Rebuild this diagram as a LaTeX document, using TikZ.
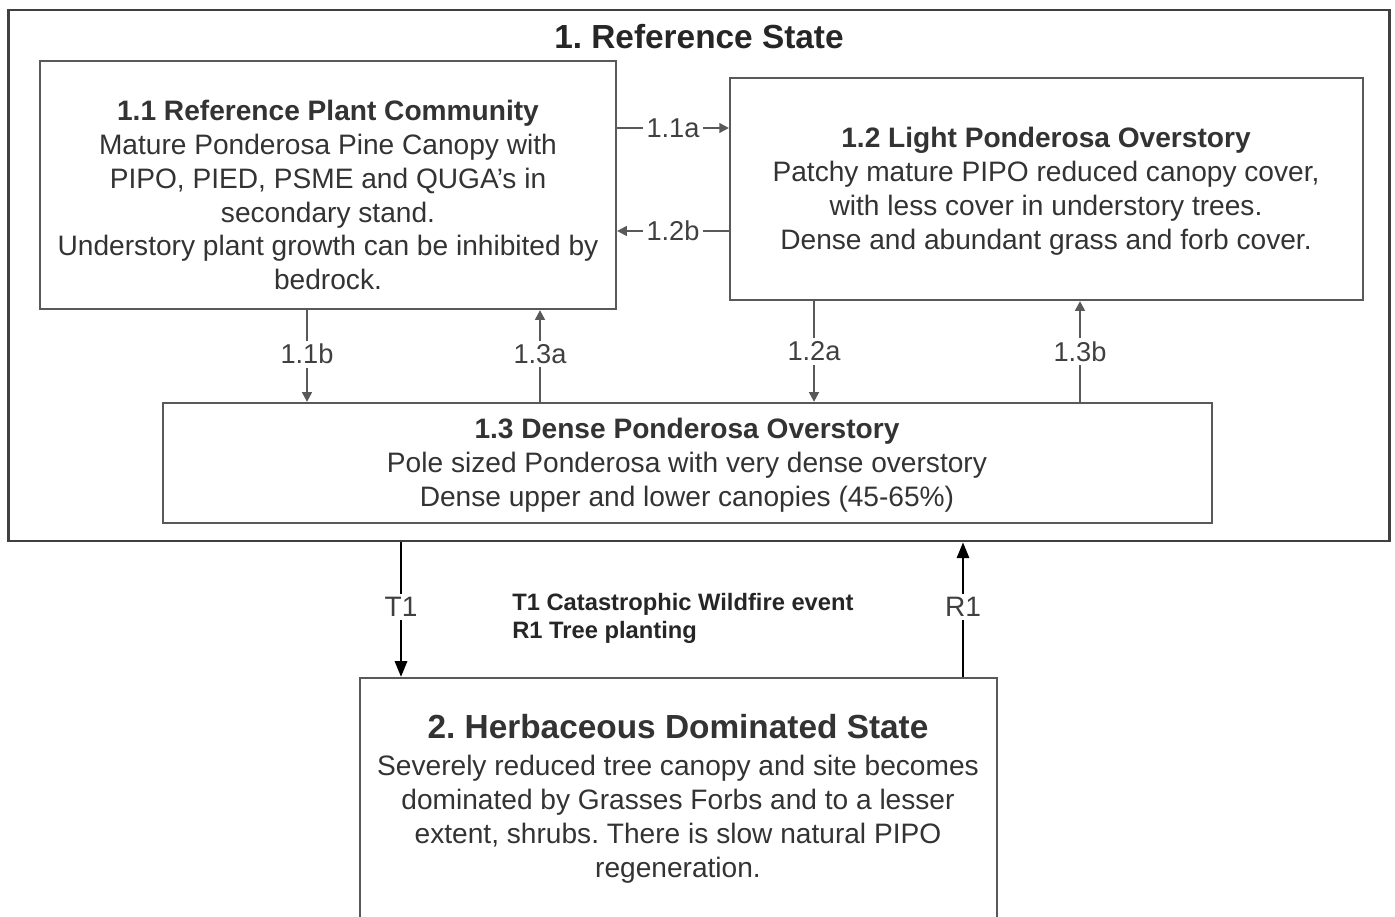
\documentclass[tikz,border=0pt]{standalone}
\usepackage{fontspec}
\setmainfont{Liberation Sans}
\usetikzlibrary{arrows.meta}
\frenchspacing
\tikzset{
  box/.style={draw=black!65, line width=1.3pt, fill=white, inner sep=0pt},
  outerbox/.style={draw=black!75, line width=1.6pt, inner sep=0pt},
  txt/.style={text=black!80, align=center, inner sep=0pt, font=\fontsize{16}{19.3}\selectfont},
  ttl/.style={text=black!85, inner sep=0pt, font=\fontsize{19}{22}\selectfont\bfseries},
  lbl/.style={text=black!75, fill=white, inner sep=2pt, font=\fontsize{15.5}{18}\selectfont},
  bigl/.style={text=black!75, fill=white, inner sep=2pt, font=\fontsize{16}{19}\selectfont},
  leg/.style={text=black!85, align=left, inner sep=0pt, font=\fontsize{13.5}{15.9}\selectfont\bfseries},
  arr/.style={draw=black!65, line width=1.2pt, -{Triangle[length=5.5pt,width=5.5pt]}},
  bigarr/.style={draw=black, line width=1.3pt, -{Triangle[length=9pt,width=7pt]}},
}
\begin{document}
\frenchspacing
\begin{tikzpicture}[x=0.02cm, y=-0.02cm]
\useasboundingbox (0,0) rectangle (1395,916);
\clip (0,0) rectangle (1395,916);
\fill[white] (0,0) rectangle (1395,916);

\node[outerbox, minimum width=27.64cm, minimum height=10.62cm] (outer) at (699,275.5) {};
\node[ttl] (ttl1) at (699,37) {1. Reference State};

\node[box, minimum width=11.52cm, minimum height=4.96cm] (b11) at (328,185) {};
\node[box, minimum width=12.66cm, minimum height=4.44cm] (b12) at (1046.5,189) {};
\node[box, minimum width=20.98cm, minimum height=2.4cm] (b13) at (687.5,463) {};
\node[box, minimum width=12.74cm, minimum height=5.04cm] (b2) at (678.5,804) {};

\node[txt] (t11) at (328,195) {\textbf{1.1 Reference Plant Community}\\
Mature Ponderosa Pine Canopy with\\
PIPO, PIED, PSME and QUGA's in\\
secondary stand.\\
Understory plant growth can be inhibited by\\
bedrock.};

\node[txt] (t12) at (1046,191) {\textbf{1.2 Light Ponderosa Overstory}\\
Patchy mature PIPO reduced canopy cover,\\
with less cover in understory trees.\\
Dense and abundant grass and forb cover.};

\node[txt] (t13) at (687,465) {\textbf{1.3 Dense Ponderosa Overstory}\\
Pole sized Ponderosa with very dense overstory\\
Dense upper and lower canopies (45-65\%)};

\node[txt, anchor=north] (t2h) at (678,714) {\fontsize{19}{22}\selectfont\bfseries 2. Herbaceous Dominated State};
\node[txt, anchor=north] (t2) at (678,755) {Severely reduced tree canopy and site becomes\\
dominated by Grasses Forbs and to a lesser\\
extent, shrubs. There is slow natural PIPO\\
regeneration.};

\node[leg, anchor=north west] (legend) at (512,593) {T1 Catastrophic Wildfire event\\R1 Tree planting};

% transitions within state 1
\draw[arr] (b11.east|-0,128) -- node[lbl] (l11a) {1.1a} (b12.west|-0,128);
\draw[arr] (b12.west|-0,231) -- node[lbl] (l12b) {1.2b} (b11.east|-0,231);
\draw[arr] (b11.south-|307,0) -- node[lbl, pos=0.48] (l11b) {1.1b} (b13.north-|307,0);
\draw[arr] (b13.north-|540,0) -- node[lbl, pos=0.52] (l13a) {1.3a} (b11.south-|540,0);
\draw[arr] (b12.south-|814,0) -- node[lbl, pos=0.5] (l12a) {1.2a} (b13.north-|814,0);
\draw[arr] (b13.north-|1080,0) -- node[lbl, pos=0.5] (l13b) {1.3b} (b12.south-|1080,0);

% state transitions
\draw[bigarr] (outer.south-|401,0) -- node[bigl, pos=0.48] (lT1) {T1} (b2.north-|401,0);
\draw[bigarr] (b2.north-|963,0) -- node[bigl, pos=0.52] (lR1) {R1} (outer.south-|963,0);
\end{tikzpicture}
\end{document}
